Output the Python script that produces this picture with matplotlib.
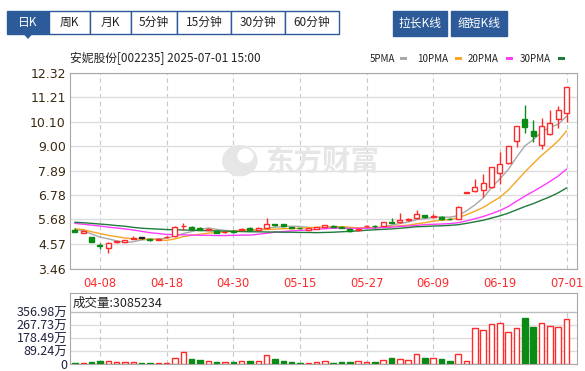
import numpy as np
import matplotlib
matplotlib.use("Agg")
import matplotlib.pyplot as plt
from matplotlib.patches import Rectangle, Polygon, Ellipse

plt.rcParams['font.family'] = ['Noto Sans CJK SC', 'DejaVu Sans']

# ---------------- DATA ----------------
dates = ['04-02', '04-03', '04-07', '04-08', '04-09', '04-10', '04-11', '04-14', '04-15', '04-16',
         '04-17', '04-18', '04-21', '04-22', '04-23', '04-24', '04-25', '04-28', '04-29', '04-30',
         '05-06', '05-07', '05-08', '05-09', '05-12', '05-13', '05-14', '05-15', '05-16', '05-19',
         '05-20', '05-21', '05-22', '05-23', '05-26', '05-27', '05-28', '05-29', '05-30', '06-03',
         '06-04', '06-05', '06-06', '06-09', '06-10', '06-11', '06-12', '06-13', '06-16', '06-17',
         '06-18', '06-19', '06-20', '06-23', '06-24', '06-25', '06-26', '06-27', '06-30', '07-01']

opens = [5.20, 5.08, 4.88, 4.50, 4.37, 4.65, 4.66, 4.80, 4.86, 4.80,
         4.77, 4.88, 4.92, 5.36, 5.35, 5.30, 5.21, 5.17, 5.09, 5.13,
         5.20, 5.30, 5.22, 5.28, 5.46, 5.46, 5.33, 5.30, 5.22, 5.26,
         5.34, 5.40, 5.35, 5.25, 5.20, 5.36, 5.39, 5.40, 5.58, 5.54,
         5.63, 5.73, 5.88, 5.80, 5.80, 5.71, 5.70, 6.88, 6.96, 7.01,
         7.16, 7.76, 8.22, 9.24, 10.21, 9.68, 9.04, 9.54, 10.20, 10.48]
highs = [5.27, 5.18, 4.90, 4.62, 4.65, 4.72, 4.76, 4.94, 4.90, 4.85,
         4.84, 4.92, 5.36, 5.50, 5.37, 5.32, 5.28, 5.20, 5.15, 5.18,
         5.30, 5.33, 5.34, 5.76, 5.49, 5.47, 5.35, 5.31, 5.30, 5.34,
         5.44, 5.42, 5.37, 5.28, 5.30, 5.41, 5.41, 5.56, 5.76, 5.98,
         5.73, 6.10, 5.90, 5.92, 5.83, 5.73, 6.29, 6.88, 7.50, 7.72,
         8.05, 8.74, 9.00, 9.90, 10.85, 10.17, 10.25, 10.62, 10.82, 11.68]
lows = [5.15, 5.05, 4.64, 4.34, 4.17, 4.62, 4.64, 4.78, 4.80, 4.72,
        4.75, 4.84, 4.90, 5.22, 5.22, 5.18, 5.18, 5.05, 5.06, 5.08,
        5.18, 5.20, 5.20, 5.26, 5.38, 5.33, 5.27, 5.25, 5.20, 5.24,
        5.32, 5.33, 5.29, 5.12, 5.15, 5.34, 5.30, 5.38, 5.50, 5.52,
        5.60, 5.71, 5.74, 5.75, 5.66, 5.64, 5.68, 6.88, 6.92, 6.70,
        7.12, 7.28, 8.20, 8.97, 9.57, 9.19, 8.85, 9.50, 9.80, 10.10]
closes = [5.12, 5.16, 4.64, 4.46, 4.60, 4.69, 4.74, 4.86, 4.86, 4.76,
          4.80, 4.88, 5.35, 5.40, 5.24, 5.21, 5.24, 5.08, 5.12, 5.11,
          5.26, 5.22, 5.30, 5.45, 5.42, 5.36, 5.30, 5.27, 5.27, 5.32,
          5.42, 5.35, 5.31, 5.14, 5.25, 5.40, 5.36, 5.55, 5.53, 5.63,
          5.71, 5.92, 5.77, 5.85, 5.70, 5.68, 6.25, 6.88, 7.13, 7.31,
          8.04, 8.18, 9.00, 9.90, 9.87, 9.45, 9.92, 10.05, 10.62, 11.68]

# volume in 万股
volumes = [4.5, 4.5, 9, 18, 18, 9, 9, 9, 4.5, 4.5,
           4.5, 4.5, 38, 78, 31, 25, 18, 11, 11, 11,
           18, 18, 18, 60, 33, 18, 11, 4.5, 4.5, 11,
           18, 4.5, 11, 11, 18, 11, 11, 25, 40, 33,
           25, 67, 40, 40, 33, 18, 69, 18, 241, 228,
           268, 281, 214, 241, 312, 250, 281, 259, 250, 308.52]

ma5 = [5.22, 5.16, 5.02, 4.88, 4.80, 4.71, 4.63, 4.67, 4.75, 4.78,
       4.80, 4.83, 4.93, 5.04, 5.13, 5.22, 5.29, 5.23, 5.18, 5.15,
       5.16, 5.16, 5.20, 5.27, 5.33, 5.35, 5.37, 5.36, 5.32, 5.30,
       5.32, 5.33, 5.33, 5.31, 5.29, 5.29, 5.29, 5.34, 5.42, 5.49,
       5.56, 5.67, 5.71, 5.78, 5.79, 5.78, 5.85, 6.07, 6.33, 6.65,
       7.12, 7.51, 7.93, 8.49, 9.00, 9.28, 9.63, 9.84, 9.98, 10.34]
ma10 = [5.25, 5.22, 5.12, 5.04, 4.96, 4.90, 4.84, 4.80, 4.79, 4.79,
        4.76, 4.73, 4.80, 4.90, 4.96, 5.01, 5.06, 5.08, 5.11, 5.15,
        5.19, 5.22, 5.22, 5.22, 5.24, 5.26, 5.26, 5.28, 5.30, 5.32,
        5.33, 5.35, 5.35, 5.32, 5.30, 5.30, 5.31, 5.34, 5.36, 5.39,
        5.42, 5.48, 5.53, 5.60, 5.64, 5.67, 5.76, 5.89, 6.05, 6.22,
        6.45, 6.68, 7.00, 7.41, 7.82, 8.20, 8.57, 8.89, 9.23, 9.67]
ma20 = [5.50, 5.46, 5.42, 5.38, 5.33, 5.29, 5.25, 5.20, 5.14, 5.08,
        5.04, 5.00, 4.99, 4.98, 4.97, 4.96, 4.96, 4.95, 4.95, 4.96,
        4.97, 4.97, 5.01, 5.05, 5.10, 5.13, 5.16, 5.18, 5.20, 5.23,
        5.26, 5.28, 5.28, 5.27, 5.27, 5.28, 5.29, 5.31, 5.33, 5.36,
        5.38, 5.41, 5.44, 5.46, 5.47, 5.49, 5.53, 5.61, 5.71, 5.81,
        5.94, 6.08, 6.26, 6.50, 6.73, 6.94, 7.16, 7.39, 7.64, 7.95]
ma30 = [5.55, 5.53, 5.50, 5.47, 5.44, 5.40, 5.37, 5.32, 5.28, 5.26,
        5.24, 5.22, 5.21, 5.20, 5.19, 5.18, 5.17, 5.16, 5.15, 5.14,
        5.13, 5.12, 5.12, 5.11, 5.11, 5.10, 5.10, 5.09, 5.09, 5.08,
        5.09, 5.10, 5.12, 5.14, 5.16, 5.19, 5.21, 5.23, 5.25, 5.28,
        5.31, 5.35, 5.36, 5.38, 5.39, 5.41, 5.44, 5.50, 5.57, 5.64,
        5.74, 5.84, 5.96, 6.11, 6.26, 6.39, 6.55, 6.70, 6.88, 7.10]

price_ticks = [3.46, 4.57, 5.68, 6.78, 7.89, 9.00, 10.10, 11.21, 12.32]
vol_ticks = [0, 89.24, 178.49, 267.73, 356.98]
tabs = ['日K', '周K', '月K', '5分钟', '15分钟', '30分钟', '60分钟']
title = '安妮股份[002235] 2025-07-01 15:00'
last_vol = '3085234'
# --------------------------------------

RED = '#ff2a2a'
GREEN = '#0b8a16'
BLUE = '#2d5a98'
GRID = '#dddddd'
ma_colors = ['#a8a8a8', '#f5a623', '#ff3cff', '#1e7b3c']

W, H = 585, 371
fig = plt.figure(figsize=(W / 100, H / 100), dpi=100)

# overlay in pixel coords for the toolbar / header texts
ui = fig.add_axes([0, 0, 1, 1])
ui.set_xlim(0, W)
ui.set_ylim(H, 0)
ui.axis('off')

ax = fig.add_axes([70 / W, 1 - 268.5 / H, 507 / W, 196 / H])
axv = fig.add_axes([70 / W, 1 - 364 / H, 507 / W, 71 / H])

x = np.arange(len(dates))
o, h, l, c = (np.array(v) for v in (opens, highs, lows, closes))
prev = np.r_[c[0], c[:-1]]
up = (c > o) | ((c == o) & (c > prev))
flat = (c == o) & (c == prev)
cols = np.where(up, RED, GREEN).astype(object)
cols[flat] = '#222222'

# ---- toolbar ----
edges = [7, 49, 90, 131, 177, 231, 285, 339]
for i, t in enumerate(tabs):
    sel = i == 0
    ui.add_patch(Rectangle((edges[i], 11), edges[i + 1] - edges[i], 23,
                           facecolor=BLUE if sel else 'white', edgecolor=BLUE, lw=1))
    ui.text((edges[i] + edges[i + 1]) / 2, 22.5, t, ha='center', va='center',
            fontsize=8.5, color='white' if sel else '#222222')
ui.add_patch(Polygon([[24, 34], [32, 34], [28, 38.5]], closed=True, facecolor=BLUE, edgecolor=BLUE, lw=0.5))
for x0, x1, t in [(393, 447, '拉长K线'), (451, 507, '缩短K线')]:
    ui.add_patch(Rectangle((x0, 11), x1 - x0, 25, facecolor=BLUE, edgecolor=BLUE))
    ui.text((x0 + x1) / 2, 23.5, t, ha='center', va='center', fontsize=8.5, color='white')

# ---- title + MA legend ----
ui.text(70, 58.5, title, ha='left', va='center', fontsize=8.5, color='#222222')
leg_x = [370, 417, 468, 520]
for lx, n, col in zip(leg_x, [5, 10, 20, 30], ma_colors):
    ui.text(lx, 58.5, f'{n}PMA', ha='left', va='center', fontsize=7, color='#222222')
    sw = lx + (28 if n == 5 else 36)
    ui.add_patch(Rectangle((sw + 2, 57), 7, 3, facecolor=col, edgecolor='none'))

# ---- price panel ----
ax.set_xlim(-0.6, 60.26)
ax.set_ylim(price_ticks[0], price_ticks[-1])
ax.set_facecolor('white')
for s in ax.spines.values():
    s.set_color('#a8a8a8')
ax.set_yticks(price_ticks)
ax.set_yticklabels([f'{v:.2f}' for v in price_ticks], color='#3a2a12', fontsize=9,
                   family=['DejaVu Sans'])
ax.set_xticks(x[3::8])
ax.set_xticklabels(dates[3::8], color=RED, fontsize=8.3, family=['DejaVu Sans'])
ax.tick_params(axis='both', length=0)
ax.tick_params(axis='y', pad=3)
ax.tick_params(axis='x', pad=6)
ax.yaxis.grid(True, color=GRID, lw=1, zorder=0)
ax.xaxis.grid(True, color='#c8c8c8', lw=0.8, ls=(0, (4, 3)), zorder=0)
ax.set_axisbelow(True)

# watermark
ax.text(0.497, 0.545, '东方财富', transform=ax.transAxes, ha='center', va='center',
        fontsize=20.5, fontweight='bold', color='#e6e6e6', zorder=1)
ax.add_patch(Ellipse((0.335, 0.55), 0.07, 0.16, transform=ax.transAxes,
                     facecolor='#e6e6e6', edgecolor='none', zorder=1))
ax.add_patch(Ellipse((0.346, 0.575), 0.032, 0.075, transform=ax.transAxes,
                     facecolor='white', edgecolor='none', zorder=1))

# MA lines
for ma, col in zip([ma5, ma10, ma20, ma30], ma_colors):
    ax.plot(x, ma, color=col, lw=1, zorder=2)

# candles
ax.vlines(x, l, h, colors=list(cols), lw=1, zorder=3)
body_lo = np.minimum(o, c)
body_h = np.maximum(np.abs(c - o), 0.025)
faces = np.where(up & (c != o), 'white', cols).astype(object)
ax.bar(x, body_h, bottom=body_lo, width=0.6, facecolor=list(faces),
       edgecolor=list(cols), lw=1, zorder=4)

# ---- volume panel ----
axv.set_xlim(-0.6, 60.26)
axv.set_ylim(-3, 484)
for s in axv.spines.values():
    s.set_color('#a8a8a8')
axv.set_xticks([])
axv.set_yticks(vol_ticks)
axv.set_yticklabels(['0'] + [f'{v:.2f}万' for v in vol_ticks[1:]], color='#1f2340', fontsize=9)
axv.tick_params(axis='y', length=0, pad=2)
for v in vol_ticks[1:-1]:
    axv.axhline(v, color=GRID, lw=1, zorder=0)
axv.axhline(vol_ticks[-1], color='#bdbdbd', lw=1, zorder=0)
axv.vlines(x[3::8], 0, vol_ticks[-1], colors='#c8c8c8', lw=0.8, linestyles=(0, (4, 3)), zorder=0)
vcols = np.where(up, RED, GREEN)
vfaces = np.where(up, 'white', GREEN)
axv.bar(x, volumes, width=0.66, facecolor=list(vfaces), edgecolor=list(vcols), lw=1, zorder=3)
axv.text(0.006, 0.86, '成交量:' + last_vol, transform=axv.transAxes, ha='left', va='center',
         fontsize=9, color='#222222')

fig.savefig('out.png', dpi=100, facecolor='white')
